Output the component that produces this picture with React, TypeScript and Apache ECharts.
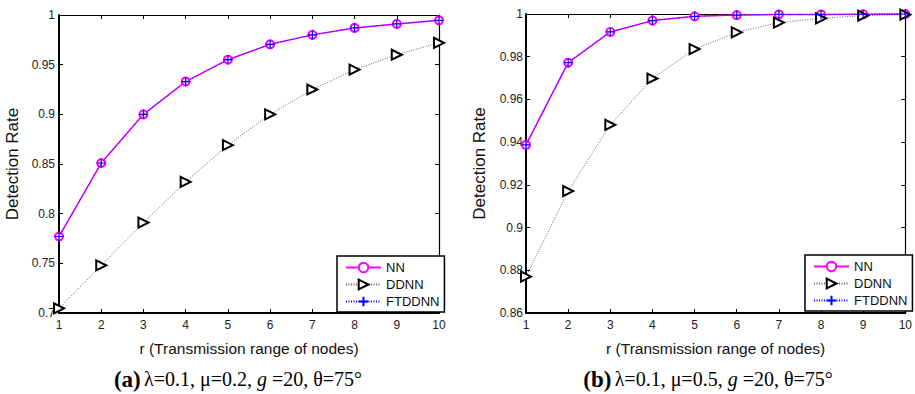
import React, { useEffect, useRef } from "react";
import * as echarts from "echarts";

const rValues = [1, 2, 3, 4, 5, 6, 7, 8, 9, 10];

// (a) λ=0.1, μ=0.2
const nnA = [0.777, 0.851, 0.9, 0.933, 0.955, 0.9705, 0.98, 0.987, 0.991, 0.9946];
const ddnnA = [0.7047, 0.748, 0.791, 0.832, 0.869, 0.9, 0.925, 0.945, 0.96, 0.972];
const ftddnnA = [0.777, 0.851, 0.9, 0.933, 0.955, 0.9705, 0.98, 0.987, 0.991, 0.9946];

// (b) λ=0.1, μ=0.5
const nnB = [0.9387, 0.9772, 0.9916, 0.9969, 0.9989, 0.9995, 0.9998, 0.9998, 0.9999, 1.0];
const ddnnB = [0.877, 0.9171, 0.9481, 0.9698, 0.9836, 0.9914, 0.996, 0.998, 0.9992, 0.9997];
const ftddnnB = [0.9387, 0.9772, 0.9916, 0.9969, 0.9989, 0.9995, 0.9998, 0.9998, 0.9999, 1.0];

const seriesNames = ["NN", "DDNN", "FTDDNN"];
const xTitle = "r (Transmission range of nodes)";
const yTitle = "Detection Rate";
const captionA = ["(a)", "λ=0.1, μ=0.2, ", "g", " =20, θ=75°"];
const captionB = ["(b)", "λ=0.1, μ=0.5, ", "g", " =20, θ=75°"];

const SANS = "Liberation Sans, Arial, Helvetica, sans-serif";
const SERIF = "Liberation Serif, Times New Roman, DejaVu Serif, serif";
const PLUS = "path://M5,0L5,10M0,5L10,5";

function pairs(vals: number[]) {
  return rValues.map((r, i) => [r, vals[i]]);
}

function makeSeries(gi: number, nn: number[], dd: number[], ft: number[]) {
  const xi = gi * 2;
  const yi = gi * 2;
  return [
    {
      name: seriesNames[0],
      type: "line",
      xAxisIndex: xi,
      yAxisIndex: yi,
      data: pairs(nn),
      clip: false,
      symbol: "emptyCircle",
      symbolSize: 8,
      lineStyle: { color: "#ff00ff", width: 1.5, type: "solid" },
      itemStyle: { color: "#ff00ff", borderColor: "#ff00ff", borderWidth: 1 },
      z: 2,
    },
    {
      name: seriesNames[1],
      type: "line",
      xAxisIndex: xi,
      yAxisIndex: yi,
      data: pairs(dd),
      clip: false,
      symbol: "emptyTriangle",
      symbolRotate: -90,
      symbolSize: 10,
      lineStyle: { color: "#666666", width: 1, type: [1, 1.5] },
      itemStyle: { color: "#000000", borderColor: "#000000", borderWidth: 0.9 },
      z: 2,
    },
    {
      name: seriesNames[2],
      type: "line",
      xAxisIndex: xi,
      yAxisIndex: yi,
      data: pairs(ft),
      clip: false,
      symbol: PLUS,
      symbolSize: 9,
      lineStyle: { color: "#0000ff", width: 1, type: [1, 1.5] },
      itemStyle: { color: "#0000ff", borderColor: "#0000ff", borderWidth: 1.2 },
      z: 3,
    },
  ];
}

function xAxes(gi: number) {
  const base = {
    type: "value",
    gridIndex: gi,
    min: 1,
    max: 10,
    interval: 1,
    splitLine: { show: false },
  };
  return [
    {
      ...base,
      position: "bottom",
      axisLine: { show: true, onZero: false, lineStyle: { color: "#000", width: 2 } },
      axisTick: { show: true, inside: true, length: 4, lineStyle: { color: "#000", width: 1 } },
      axisLabel: { show: true, margin: 6, fontSize: 12, color: "#222", fontFamily: SANS },
      name: xTitle,
      nameLocation: "middle",
      nameGap: 27,
      nameTextStyle: { fontSize: 15.5, color: "#111", fontFamily: SANS },
    },
    {
      ...base,
      position: "top",
      axisLine: { show: true, onZero: false, lineStyle: { color: "#000", width: 1.2 } },
      axisTick: { show: true, inside: true, length: 4, lineStyle: { color: "#000", width: 1 } },
      axisLabel: { show: false },
    },
  ];
}

function yAxes(gi: number, min: number, max: number, interval: number, margin: number) {
  const base = {
    type: "value",
    gridIndex: gi,
    min,
    max,
    interval,
    splitLine: { show: false },
  };
  return [
    {
      ...base,
      position: "left",
      axisLine: { show: true, onZero: false, lineStyle: { color: "#000", width: 2 } },
      axisTick: { show: true, inside: true, length: 4, lineStyle: { color: "#000", width: 1 } },
      axisLabel: { show: true, margin, fontSize: 12, color: "#222", fontFamily: SANS },
      name: yTitle,
      nameLocation: "middle",
      nameGap: 38,
      nameRotate: 90,
      nameTextStyle: { fontSize: 17, color: "#111", fontFamily: SANS },
    },
    {
      ...base,
      position: "right",
      axisLine: { show: true, onZero: false, lineStyle: { color: "#000", width: 1.2 } },
      axisTick: { show: true, inside: true, length: 4, lineStyle: { color: "#000", width: 1 } },
      axisLabel: { show: false },
    },
  ];
}

function legendAt(left: number, top: number) {
  return {
    orient: "vertical",
    left,
    top,
    data: seriesNames,
    itemWidth: 35,
    itemHeight: 12,
    itemGap: 4,
    padding: [5, 5, 4, 8],
    borderColor: "#000",
    borderWidth: 1.5,
    borderRadius: 0,
    backgroundColor: "#fff",
    textStyle: { fontSize: 13, color: "#111", fontFamily: SANS },
    selectedMode: false,
  };
}

function caption(parts: string[], cx: number, y: number) {
  return {
    type: "text",
    x: cx,
    y,
    style: {
      text: `{b|${parts[0]}} {n|${parts[1]}}{i|${parts[2]}}{n|${parts[3]}}`,
      align: "center",
      verticalAlign: "middle",
      rich: {
        b: { fontFamily: SERIF, fontWeight: "bold", fontSize: 23, fill: "#000" },
        n: { fontFamily: SERIF, fontSize: 20, fill: "#000" },
        i: { fontFamily: SERIF, fontSize: 20, fontStyle: "italic", fill: "#000" },
      },
    },
  };
}

export default function App() {
  const ref = useRef<HTMLDivElement>(null);
  useEffect(() => {
    if (!ref.current) return;
    const chart = echarts.init(ref.current, null, { renderer: "svg" });
    chart.setOption({
      animation: false,
      backgroundColor: "#fff",
      grid: [
        { left: 59, top: 15, width: 380, height: 298, containLabel: false },
        { left: 526, top: 14, width: 381, height: 299, containLabel: false },
      ],
      xAxis: [...xAxes(0), ...xAxes(1)],
      yAxis: [...yAxes(0, 0.7, 1, 0.05, 4), ...yAxes(1, 0.86, 1, 0.02, 3)],
      legend: [legendAt(337, 256), legendAt(805, 255)],
      series: [...makeSeries(0, nnA, ddnnA, ftddnnA), ...makeSeries(1, nnB, ddnnB, ftddnnB)],
      graphic: [caption(captionA, 238, 379), caption(captionB, 708, 379)],
    });
    return () => chart.dispose();
  }, []);
  return (
    <div
      ref={ref}
      style={{ position: "absolute", left: 0, top: 0, width: 915, height: 394 }}
    />
  );
}
